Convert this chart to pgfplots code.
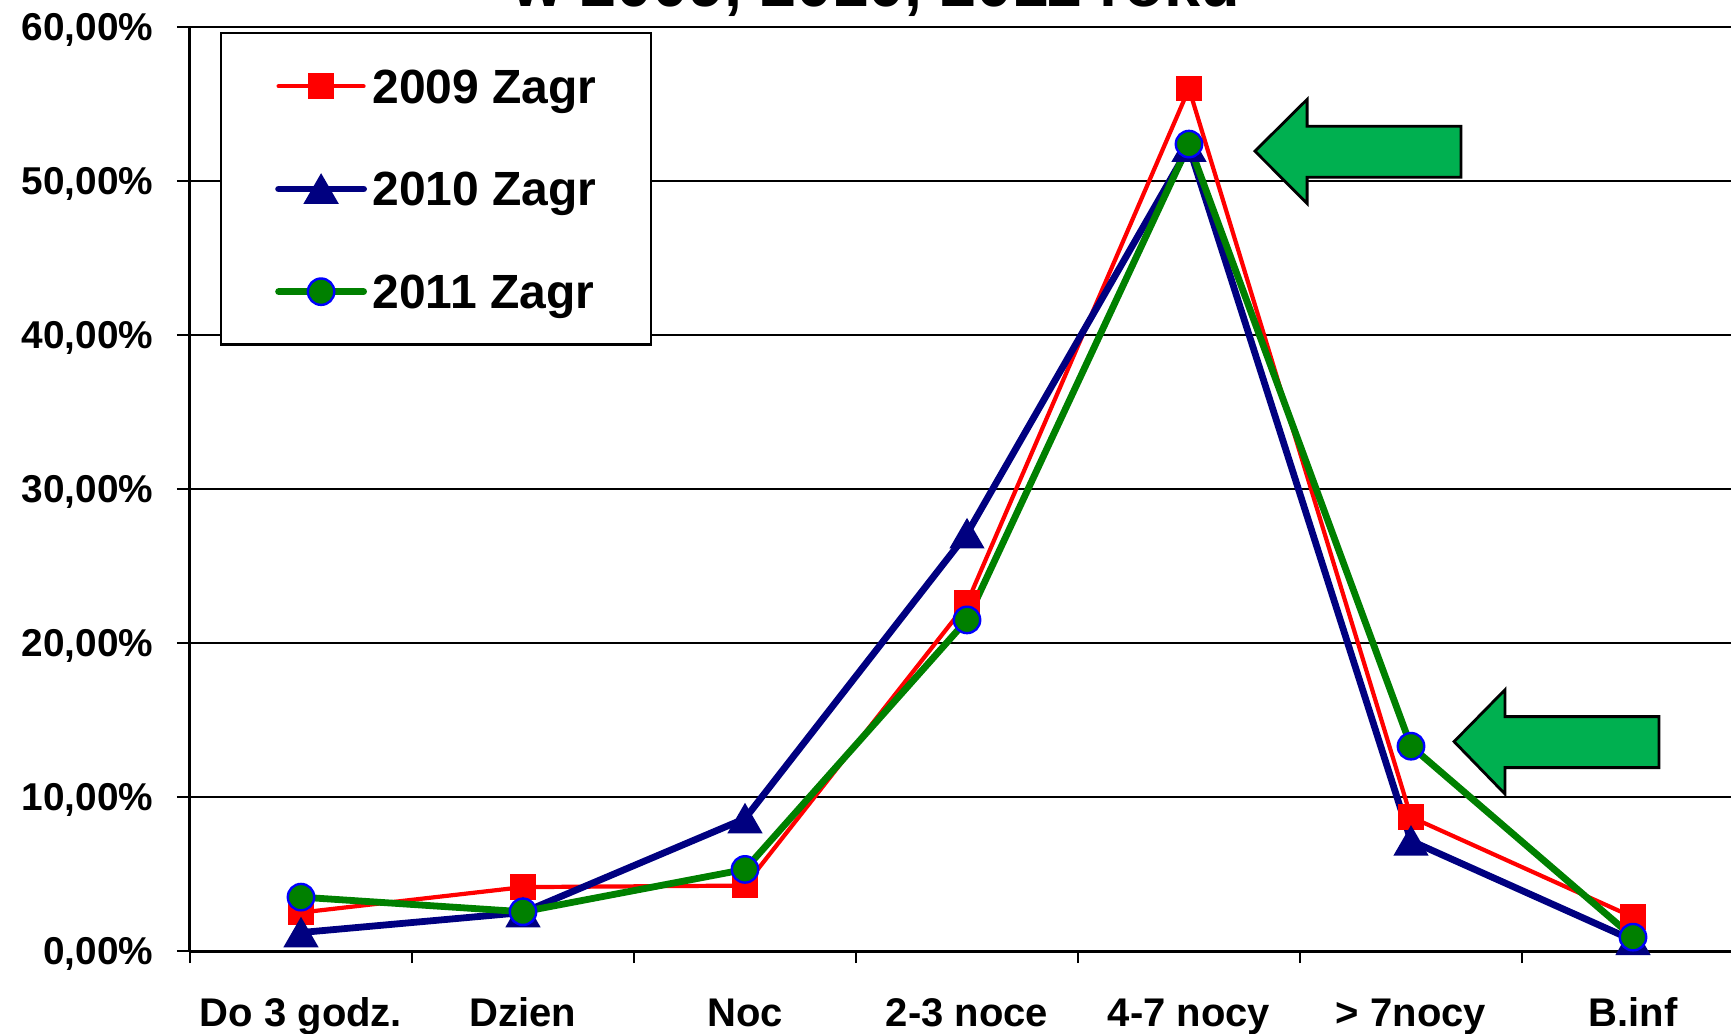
\documentclass[border=0pt]{standalone}
\usepackage{fontspec}
\setmainfont{Liberation Sans}
\usepackage{pgfplots}
\pgfplotsset{compat=1.18}
\definecolor{r09}{RGB}{255,0,0}
\definecolor{b10}{RGB}{0,0,128}
\definecolor{g11}{RGB}{0,128,0}
\definecolor{mblue}{RGB}{0,0,255}
\definecolor{arrowgreen}{RGB}{0,176,80}

\begin{document}
\begin{tikzpicture}
% picture is cropped at the top and right, like the reference
\useasboundingbox (-47.5pt,-20.5pt) rectangle (385.25pt,237.75pt);
\begin{axis}[
    at={(0,0)}, anchor=south west,
    scale only axis,
    width=388.5pt, height=231pt,
    xmin=-0.5, xmax=6.5,
    ymin=0, ymax=60,
    clip=false,
    axis lines*=left,
    axis line style={line width=0.75pt},
    xtick={0,...,6},
    xticklabels={Do 3 godz., Dzien, Noc, 2-3 noce, 4-7 nocy, > 7nocy, B.inf},
    major x tick style={draw=none},
    minor xtick={-0.5,0.5,...,6.5},
    minor x tick style={line width=0.6pt, black},
    ytick={0,10,...,60},
    yticklabels={{0,00\%},{10,00\%},{20,00\%},{30,00\%},{40,00\%},{50,00\%},{60,00\%}},
    major y tick style={line width=0.6pt, black},
    tick align=outside,
    major tick length=3.3pt,
    minor tick length=3pt,
    ymajorgrids,
    grid style={black, line width=0.5pt},
    xticklabel style={font=\fontsize{10}{12}\selectfont\bfseries, anchor=base, inner sep=0pt, yshift=-15.5pt},
    yticklabel style={font=\fontsize{9.7}{12}\selectfont\bfseries, anchor=east, inner sep=0pt, text depth=0pt, xshift=-5.7pt},
    legend style={at={(0.0193,0.9945)}, anchor=north west, draw=black, line width=0.6pt,
        inner xsep=13.5pt, inner ysep=9.05pt, row sep=17.3pt, column sep=1.4pt,
        font=\fontsize{12}{14}\selectfont\bfseries,
        nodes={inner sep=0pt, text depth=0pt}},
    legend cell align=left,
    legend image code/.code={\draw[mark repeat=2,mark phase=2,line cap=round,#1] plot coordinates {(0pt,0pt) (10.625pt,0pt) (21.25pt,0pt)};},
]
\addplot[color=r09, line width=1.05pt, mark=square*, mark size=2.95pt,
    mark options={line width=0.5pt}] coordinates {
    (0,2.5) (1,4.15) (2,4.25) (3,22.6) (4,56.0) (5,8.7) (6,2.2)
};
\addlegendentry{2009 Zagr}

\addplot[color=b10, line width=1.7pt, mark=triangle*, mark size=4.6pt,
    mark options={line width=0.5pt, yshift=-1.15pt}] coordinates {
    (0,1.2) (1,2.5) (2,8.6) (3,27.1) (4,52.2) (5,7.15) (6,0.7)
};
\addlegendentry{2010 Zagr}

\addplot[color=g11, line width=1.7pt, mark=*, mark size=3.3pt,
    mark options={fill=g11, draw=mblue, line width=0.6pt}] coordinates {
    (0,3.5) (1,2.55) (2,5.3) (3,21.5) (4,52.4) (5,13.3) (6,0.9)
};
\addlegendentry{2011 Zagr}

% green arrows pointing at the 2011 values
\filldraw[fill=arrowgreen, draw=black, line width=0.7pt]
    (axis cs:5.225,53.56) -- (axis cs:4.532,53.56) -- (axis cs:4.532,55.3)
    -- (axis cs:4.297,51.94) -- (axis cs:4.532,48.54) -- (axis cs:4.532,50.25)
    -- (axis cs:5.225,50.25) -- cycle;
\filldraw[fill=arrowgreen, draw=black, line width=0.7pt]
    (axis cs:6.117,15.22) -- (axis cs:5.423,15.22) -- (axis cs:5.423,16.96)
    -- (axis cs:5.194,13.6) -- (axis cs:5.423,10.2) -- (axis cs:5.423,11.91)
    -- (axis cs:6.117,11.91) -- cycle;
\end{axis}
\node[anchor=base, font=\fontsize{16.2}{19}\selectfont\bfseries] at (171.5pt,236.25pt) {w 2009, 2010, 2011 roku};
\end{tikzpicture}
\end{document}
